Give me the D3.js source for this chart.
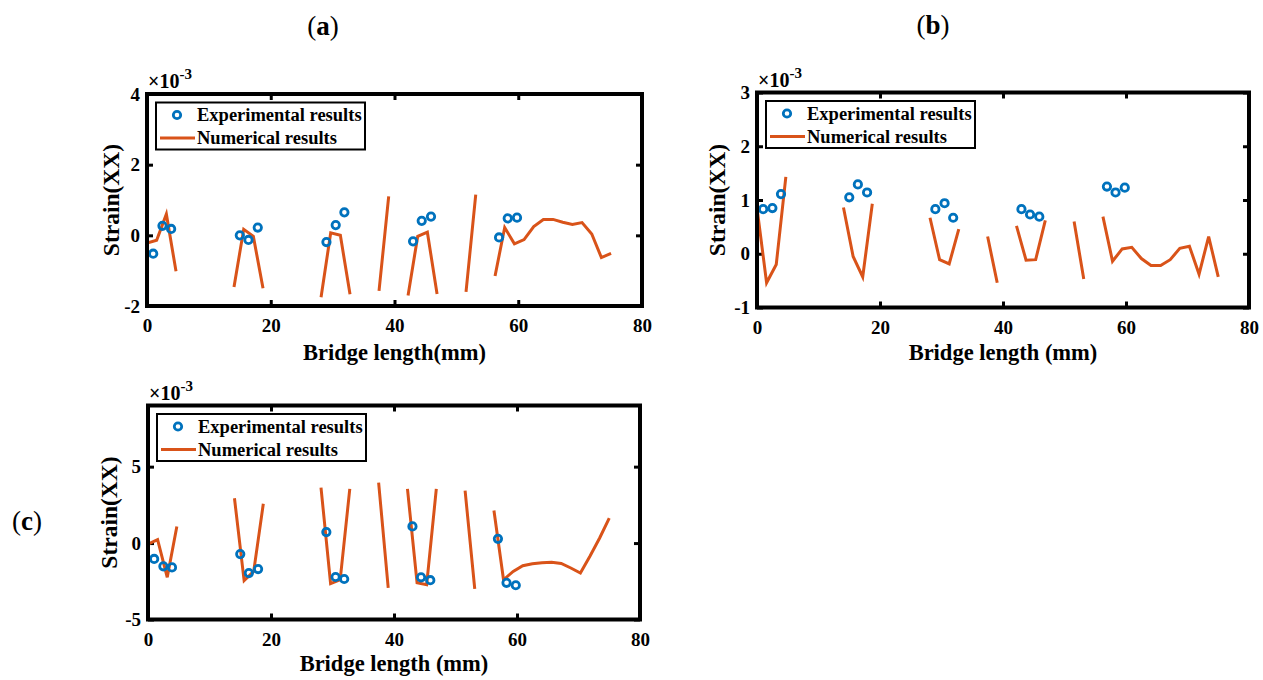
<!DOCTYPE html>
<html>
<head>
<meta charset="utf-8">
<script src="https://cdn.jsdelivr.net/npm/d3@7"></script>
<style>
  html, body { margin: 0; padding: 0; background: #fff; }
  svg { display: block; }
  text { font-family: "Liberation Serif", "Times New Roman", serif; fill: #000; }
</style>
</head>
<body>
<svg id="fig" width="1263" height="680"></svg>
<script>
// ---- data -------------------------------------------------------------
const xTicks = [0, 20, 40, 60, 80];

// Numerical model nodes along the bridge (mm); null separates the segments
const numX = [0, 1.56, 3.13, 4.69, null,
              14.06, 15.63, 17.19, 18.75, null,
              28.13, 29.69, 31.25, 32.81, null,
              37.5, 39.06, null,
              42.19, 43.75, 45.31, 46.88, null,
              51.56, 53.13, null,
              56.25, 57.81, 59.38, 60.94, 62.5, 64.06, 65.63, 67.19, 68.75, 70.31, 71.88, 73.44, 75];

// Strain gauge positions (mm)
const expX = [1.0, 2.5, 3.9, 15.0, 16.4, 17.9, 29.0, 30.5, 31.9, 43.0, 44.4, 45.9, 56.9, 58.3, 59.8];

// (a) strain x 1e-3
const numA = [-0.22, -0.14, 0.6, -1.02, null,
              -1.46, 0.17, -0.03, -1.5, null,
              -1.75, 0.07, 0.0, -1.67, null,
              -1.57, 1.1, null,
              -1.7, -0.03, 0.09, -1.66, null,
              -1.6, 1.15, null,
              -1.15, 0.22, -0.24, -0.12, 0.25, 0.45, 0.45, 0.37, 0.31, 0.36, 0.04, -0.63, -0.51];
const expA = [-0.52, 0.27, 0.18, 0.0, -0.13, 0.22, -0.19, 0.29, 0.65, -0.17, 0.41, 0.53, -0.06, 0.48, 0.5];
const yTicksA = [-2, 0, 2, 4];

// (b) strain x 1e-3
const numB = [0.85, -0.54, -0.2, 1.43, null,
              0.86, -0.05, -0.43, 0.93, null,
              0.67, -0.11, -0.19, 0.46, null,
              0.32, -0.54, null,
              0.52, -0.12, -0.11, 0.62, null,
              0.6, -0.47, null,
              0.69, -0.14, 0.09, 0.12, -0.09, -0.22, -0.22, -0.11, 0.1, 0.14, -0.38, 0.32, -0.43];
const expB = [0.83, 0.85, 1.11, 1.05, 1.29, 1.14, 0.83, 0.94, 0.67, 0.83, 0.73, 0.69, 1.25, 1.14, 1.23];
const yTicksB = [-1, 0, 1, 2, 3];

// (c) strain x 1e-3
const numC = [-0.07, 0.22, -2.24, 1.09, null,
              2.93, -2.46, -1.85, 2.57, null,
              3.63, -2.65, -2.39, 3.54, null,
              3.96, -2.93, null,
              3.54, -2.6, -2.72, 3.54, null,
              3.43, -3.0, null,
              2.13, -2.4, -1.85, -1.48, -1.35, -1.28, -1.26, -1.33, -1.63, -1.96, -0.85, 0.33, 1.63];
const expC = [-1.04, -1.52, -1.59, -0.72, -1.96, -1.7, 0.72, -2.22, -2.35, 1.09, -2.24, -2.43, 0.28, -2.6, -2.76];
const yTicksC = [-5, 0, 5];

const legendLabels = ["Experimental results", "Numerical results"];

// ---- layout -----------------------------------------------------------
const BLUE = "#0072BD", ORANGE = "#D95319";

const panels = [
  { tag: "a", num: numA, exp: expA, yDomain: [-2, 4], yTicks: yTicksA,
    xLabel: "Bridge length(mm)",
    left: 147, right: 642, top: 94, bottom: 306,
    tagX: 323, tagY: 35, yLabelX: 119, xLabelY: 360 },
  { tag: "b", num: numB, exp: expB, yDomain: [-1, 3], yTicks: yTicksB,
    xLabel: "Bridge length (mm)",
    left: 757, right: 1249, top: 92.5, bottom: 307.5,
    tagX: 933, tagY: 34, yLabelX: 725, xLabelY: 360 },
  { tag: "c", num: numC, exp: expC, yDomain: [-5, 9], yTicks: yTicksC,
    xLabel: "Bridge length (mm)",
    left: 148, right: 640, top: 405.5, bottom: 619.5,
    tagX: 27, tagY: 530, yLabelX: 117, xLabelY: 671 }
];

const svg = d3.select("#fig");

panels.forEach((p, idx) => {
  const x = d3.scaleLinear().domain([0, 80]).range([p.left, p.right]);
  const y = d3.scaleLinear().domain(p.yDomain).range([p.bottom, p.top]);
  const g = svg.append("g");

  // panel tag, e.g. (a)
  const tag = g.append("text")
    .attr("x", p.tagX).attr("y", p.tagY)
    .attr("text-anchor", "middle")
    .style("font-size", "27px");
  tag.append("tspan").text("(");
  tag.append("tspan").style("font-weight", "bold").text(p.tag);
  tag.append("tspan").text(")");

  // clip region for the data
  const clipId = "clip" + idx;
  svg.append("clipPath").attr("id", clipId)
    .append("rect")
    .attr("x", p.left).attr("y", p.top)
    .attr("width", p.right - p.left).attr("height", p.bottom - p.top);

  const fmt = d => String(d);

  // axes with inward ticks on all four sides
  const styleAxis = sel => {
    sel.select(".domain").remove();
    sel.selectAll(".tick line").attr("stroke", "#000").attr("stroke-width", 3);
    sel.selectAll(".tick text")
      .style("font-family", "'Liberation Serif','Times New Roman',serif")
      .style("font-size", "19px").style("font-weight", "bold").attr("fill", "#000");
  };

  g.append("g").attr("transform", `translate(0,${p.bottom})`)
    .call(d3.axisBottom(x).tickValues(xTicks).tickFormat(fmt)
      .tickSizeInner(-6).tickSizeOuter(0).tickPadding(13))
    .call(styleAxis);
  g.append("g").attr("transform", `translate(0,${p.top})`)
    .call(d3.axisTop(x).tickValues(xTicks).tickFormat("")
      .tickSizeInner(-6).tickSizeOuter(0))
    .call(styleAxis);
  g.append("g").attr("transform", `translate(${p.left},0)`)
    .call(d3.axisLeft(y).tickValues(p.yTicks).tickFormat(fmt)
      .tickSizeInner(-6).tickSizeOuter(0).tickPadding(7))
    .call(styleAxis);
  g.append("g").attr("transform", `translate(${p.right},0)`)
    .call(d3.axisRight(y).tickValues(p.yTicks).tickFormat("")
      .tickSizeInner(-6).tickSizeOuter(0))
    .call(styleAxis);

  // exponent note
  const ex = g.append("text")
    .attr("x", p.left + 1).attr("y", p.top - 6)
    .style("font-size", "20px").style("font-weight", "bold");
  ex.append("tspan").text("\u00D710");
  ex.append("tspan").attr("dy", -9).style("font-size", "15px").text("-3");

  // axis labels
  g.append("text")
    .attr("x", (p.left + p.right) / 2).attr("y", p.xLabelY)
    .attr("text-anchor", "middle")
    .style("font-size", "22.5px").style("font-weight", "bold")
    .text(p.xLabel);
  g.append("text")
    .attr("transform", `translate(${p.yLabelX},${(p.top + p.bottom) / 2}) rotate(-90)`)
    .attr("text-anchor", "middle")
    .style("font-size", "23.5px").style("font-weight", "bold")
    .text("Strain(XX)");

  // data
  const plot = g.append("g").attr("clip-path", `url(#${clipId})`);
  const pts = numX.map((d, i) => [d, p.num[i]]);
  const line = d3.line()
    .defined(d => d[0] !== null && d[1] !== null)
    .x(d => x(d[0])).y(d => y(d[1]));
  plot.append("path").datum(pts)
    .attr("d", line)
    .attr("fill", "none").attr("stroke", ORANGE)
    .attr("stroke-width", 3).attr("stroke-linejoin", "miter");

  plot.selectAll("circle.exp").data(expX.map((d, i) => [d, p.exp[i]]))
    .join("circle").attr("class", "exp")
    .attr("cx", d => x(d[0])).attr("cy", d => y(d[1]))
    .attr("r", 3.7).attr("fill", "none")
    .attr("stroke", BLUE).attr("stroke-width", 2.8);

  // frame
  g.append("rect")
    .attr("x", p.left).attr("y", p.top)
    .attr("width", p.right - p.left).attr("height", p.bottom - p.top)
    .attr("fill", "none").attr("stroke", "#000").attr("stroke-width", 4);

  // legend
  const lx = p.left + 9, ly = p.top + 8.5;
  const lg = g.append("g");
  lg.append("rect").attr("x", lx).attr("y", ly).attr("width", 209).attr("height", 47)
    .attr("fill", "#fff").attr("stroke", "#000").attr("stroke-width", 2);
  lg.append("circle").attr("cx", lx + 21).attr("cy", ly + 12.5).attr("r", 3.7)
    .attr("fill", "none").attr("stroke", BLUE).attr("stroke-width", 2.8);
  lg.append("line").attr("x1", lx + 4).attr("x2", lx + 39)
    .attr("y1", ly + 35.5).attr("y2", ly + 35.5)
    .attr("stroke", ORANGE).attr("stroke-width", 3);
  legendLabels.forEach((t, i) => {
    lg.append("text").attr("x", lx + 41).attr("y", ly + 12.5 + i * 23)
      .attr("dy", "0.35em")
      .style("font-size", "18.5px").style("font-weight", "bold")
      .text(t);
  });
});
</script>
</body>
</html>
